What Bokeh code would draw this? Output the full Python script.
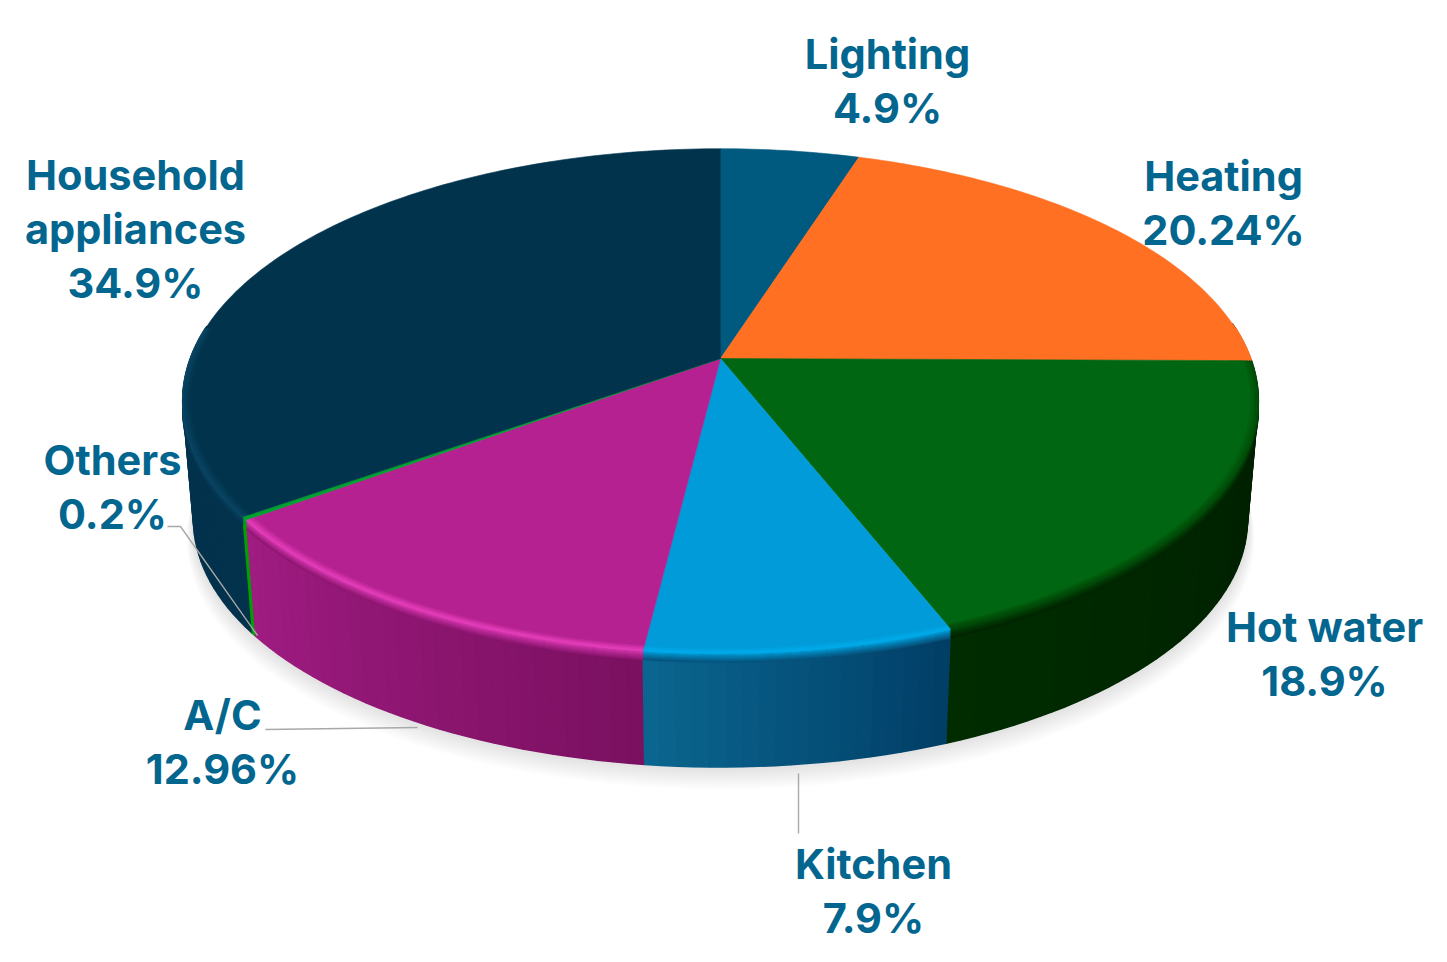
import numpy as np
from bokeh.plotting import figure
from bokeh.core.properties import value
from bokeh.embed import file_html
from bokeh.resources import INLINE

# ---- data ----
categories = ["Lighting", "Heating", "Hot water", "Kitchen", "A/C", "Others", "Household\nappliances"]
shares = [4.9, 20.24, 18.9, 7.9, 12.96, 0.2, 34.9]

# ---- styles ----
top_colors = ["#005a80", "#ff7023", "#006611", "#009bd8", "#b62191", "#00a030", "#01344c"]
wall_start = ["#003c55", "#a04010", "#001d00", "#013e66", "#7a1060", "#00a000", "#03324d"]
wall_end = ["#003c55", "#a04010", "#002c00", "#0a6690", "#a01c82", "#00a000", "#03324d"]
rim_colors = ["#005a80", "#ff7023", "#004a08", "#00a9e8", "#e23cb8", "#00a030", "#0a4463"]
TEXT = "#03668f"
LEADER = "#a8a8a8"

# ---- layout (pixels of the page) ----
CX, CY, F, G, K = 720.0, 358.0, 530.0, 245.0, 0.168
WALL_DY, WALL_SCALE = 119.0, 0.98
EC_Y = 400.0
FRONT = 0.15
label_x = [887, 1223, 1324, 873, 222, 112, 135]
label_y = [53, 175, 626, 863, 714, 459, 174]
LINE = 54
FONT = "41.5px"
leaders = [([167, 180, 257], [526, 526, 635]),
           ([265, 417], [729, 727]),
           ([798, 798], [773, 833])]


def hex2rgb(h):
    return np.array([int(h[i:i + 2], 16) for i in (1, 3, 5)], float)


def mix(a, b, t):
    c = hex2rgb(a) * (1 - t) + hex2rgb(b) * t
    return "#%02x%02x%02x" % tuple(int(round(x)) for x in c)


def edge(theta, r=1.0):
    u, v = r * np.sin(theta), r * np.cos(theta)
    d = 1 + K * v
    return CX + F * u / d, CY - G * v / d


def base(theta, extra=0.0, scale=WALL_SCALE):
    x, y = edge(theta)
    return CX + scale * (x - CX), EC_Y + scale * (y - EC_Y) + WALL_DY + extra


vals = np.array(shares, float)
# the printed shares add up to 100.1 %, the disc simply closes at the full turn
bounds = np.minimum(np.concatenate([[0], np.cumsum(vals)]) / 100.0, 1.0) * 2 * np.pi

p = figure(width=1439, height=954, x_range=(0, 1439), y_range=(954, 0),
           toolbar_location=None, output_backend="svg", min_border=0,
           x_axis_type=None, y_axis_type=None, background_fill_color="white",
           border_fill_color="white", outline_line_color=None)
p.grid.visible = False

# soft shadow below the disc
full = np.linspace(0, 2 * np.pi, 241)
for k in range(1, 12):
    sx, sy = base(full, extra=k * 2.0 - 3.0, scale=WALL_SCALE + k * 0.0012)
    p.patch(list(sx), list(sy), fill_color="black", fill_alpha=0.013, line_color=None)

# side wall of the front part: a solid underlay per slice, then shaded strips
strips = []
for i in range(len(vals)):
    a0, a1 = bounds[i], bounds[i + 1]
    n = max(1, int(np.ceil((a1 - a0) / np.radians(1.5))))
    t = np.linspace(a0, a1, n + 1)
    keep = np.cos(t) < FRONT
    if keep.sum() >= 2:
        tk = t[keep]
        tx, ty = edge(tk)
        bx, by = base(tk)
        p.patch(list(tx) + list(bx[::-1]), list(ty) + list(by[::-1]),
                fill_color=mix(wall_start[i], wall_end[i], .5), line_color=None)
    for j in range(n):
        if keep[j] and keep[j + 1]:
            strips.append((np.cos((t[j] + t[j + 1]) / 2), t[j], t[j + 1],
                           mix(wall_start[i], wall_end[i], (j + .5) / n)))
strips.sort(key=lambda s: -s[0])
xs, ys, cs = [], [], []
for _, t0, t1, c in strips:
    ang = np.array([t0, t1])
    tx, ty = edge(ang)
    bx, by = base(ang)
    xs.append([tx[0], tx[1], bx[1], bx[0]])
    ys.append([ty[0], ty[1], by[1], by[0]])
    cs.append(c)
p.patches(xs, ys, fill_color=cs, line_color=cs, line_width=1.6)

# bevel of the wall's upper edge
for i in range(len(vals)):
    t = np.linspace(bounds[i], bounds[i + 1], max(3, int((bounds[i + 1] - bounds[i]) / np.radians(1.5))))
    t = t[np.cos(t) < FRONT]
    if len(t) < 2:
        continue
    for d in range(9, 0, -1):
        x, y = edge(t)
        c = mix(rim_colors[i], mix(wall_start[i], wall_end[i], .5), min(1, d / 9) ** 0.8)
        p.line(list(x), list(y + d), line_color=c, line_width=1.6)

# top faces
for i in range(len(vals)):
    t = np.linspace(bounds[i], bounds[i + 1], max(2, int((bounds[i + 1] - bounds[i]) / np.radians(1))) + 1)
    x, y = edge(t)
    p.patch([CX] + list(x), [CY] + list(y), fill_color=top_colors[i],
            line_color=top_colors[i], line_width=0.6)

# inner rim of the top face
for i in range(len(vals)):
    t = np.linspace(bounds[i], bounds[i + 1], max(3, int((bounds[i + 1] - bounds[i]) / np.radians(1.5))))
    t = t[np.cos(t) < FRONT]
    if len(t) < 2:
        continue
    for step, a in ((0.012, 0.25), (0.008, 0.5), (0.004, 0.8), (0.0, 1.0)):
        x, y = edge(t, 1 - step)
        p.line(list(x), list(y), line_color=rim_colors[i], line_alpha=a, line_width=2)

# leader lines
for lx, ly in leaders:
    p.line(lx, ly, line_color=LEADER, line_width=1.4)

# labels
tx, ty, tt = [], [], []
for cat, sh, lx, ly in zip(categories, shares, label_x, label_y):
    lines = cat.split("\n") + [f"{sh:g}%"]
    for n, s in enumerate(lines):
        tx.append(lx)
        ty.append(ly + n * LINE)
        tt.append(s)
p.text(tx, ty, text=tt, text_align="center", text_baseline="alphabetic",
       text_font=value("Inter"), text_font_style="bold", text_font_size=FONT, text_color=TEXT)

open("out.html", "w").write(file_html(p, INLINE))
